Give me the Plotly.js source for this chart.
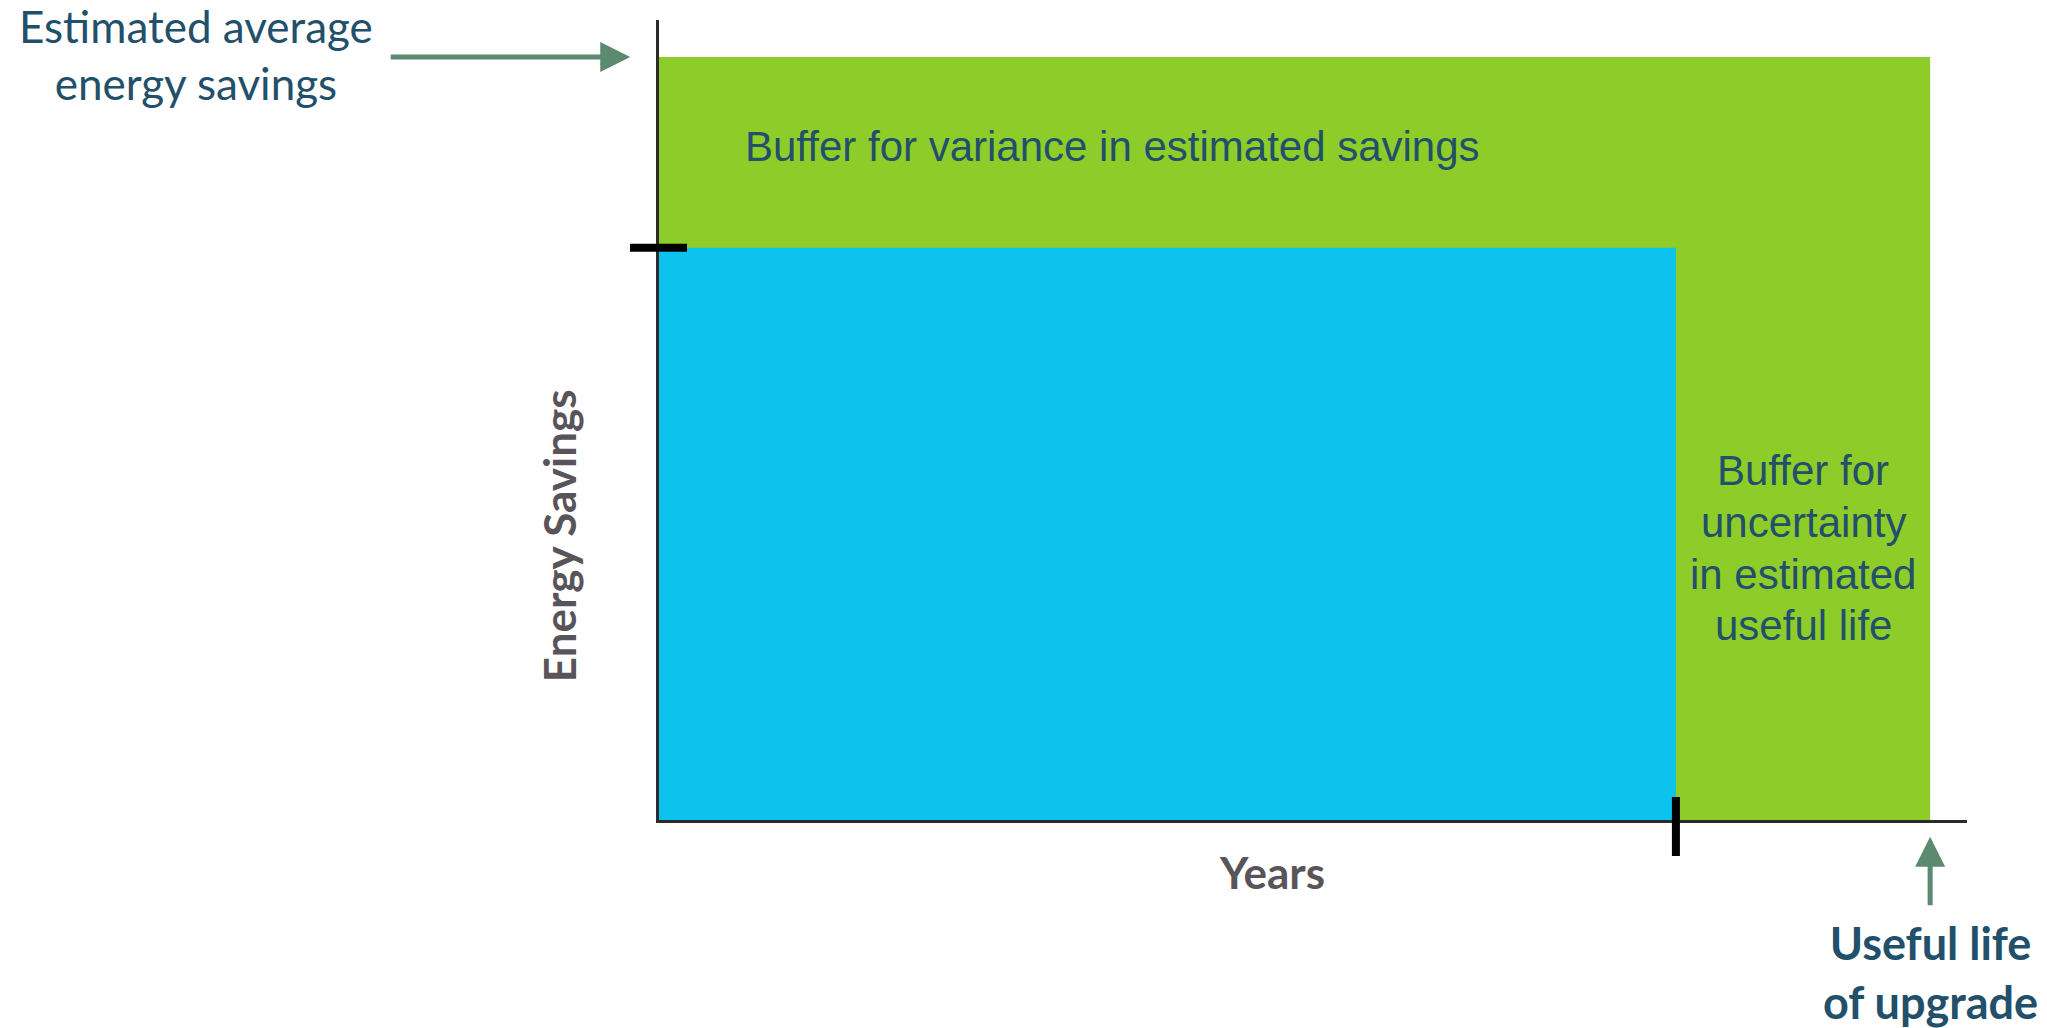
<!DOCTYPE html>
<html><head><meta charset="utf-8">
<script src="https://cdn.plot.ly/plotly-3.0.1.min.js"></script>
<style>html,body{margin:0;padding:0;background:#fff}#chart{width:2047px;height:1028px}</style>
</head><body><div id="chart"></div>
<script>
// ---- data ----
const regions = ['Buffer (estimated)', 'Claimed (conservative)'];
const lifeYears = [10, 8];          // [useful life of upgrade, conservative life]
const savingsLevels = [100, 75];    // [estimated average savings, conservative savings]
const uncertaintyLines = ['Buffer for', 'uncertainty', 'in estimated', 'useful life'];
const labels = {
  average: 'Estimated average<br>energy savings',
  variance: 'Buffer for variance in estimated savings',
  life: '<b>Useful life<br>of upgrade</b>',
  xTitle: '<b>Years</b>',
  yTitle: '<b>Energy Savings</b>'
};

// ---- styles / layout ----
const xMax = 10.29, yMax = 104.85;
const fills = ['#8ecc2a', '#0cc3ed'];
const teal = '#22506a';
const gray = '#595459';
const arrowCol = '#5b8a70';
const calibri = 'Lato, "Open Sans", sans-serif';
const arial = '"Liberation Sans", Arial, sans-serif';
const lineShifts = [77.5, 25.8, -25.8, -77.5];

const traces = regions.map((name, i) => ({
  type: 'scatter', mode: 'lines', name: name,
  x: [0, lifeYears[i], lifeYears[i], 0, 0],
  y: [0, 0, savingsLevels[i], savingsLevels[i], 0],
  fill: 'toself', fillcolor: fills[i],
  line: {width: 0, color: fills[i]},
  hoverinfo: 'skip', showlegend: false
}));

const annotations = [
  {text: labels.variance, xref: 'x', yref: 'y', x: 0.66, y: 88.3,
   xanchor: 'left', yanchor: 'middle', showarrow: false,
   font: {family: arial, size: 42, color: teal}},
  {text: labels.average, xref: 'paper', yref: 'paper', x: -0.354, y: 0.957,
   xanchor: 'center', yanchor: 'middle', showarrow: false, align: 'center',
   font: {family: calibri, size: 44, color: teal}},
  {text: labels.life, xref: 'x', yref: 'paper', x: lifeYears[0], y: -0.19,
   xanchor: 'center', yanchor: 'middle', showarrow: false, align: 'center',
   font: {family: calibri, size: 45, color: teal}},
  {text: labels.xTitle, xref: 'paper', yref: 'paper', x: 0.4687, y: -0.065,
   xanchor: 'center', yanchor: 'middle', showarrow: false,
   font: {family: calibri, size: 44, color: gray}},
  {text: labels.yTitle, xref: 'paper', yref: 'paper', x: -0.0765, y: 0.356,
   xanchor: 'center', yanchor: 'middle', showarrow: false, textangle: -90,
   font: {family: calibri, size: 44, color: gray}},
  // arrow to estimated average savings
  {text: '', xref: 'paper', yref: 'y', x: -0.022, y: savingsLevels[0],
   ax: -241, ay: 0, axref: 'pixel', ayref: 'pixel', showarrow: true,
   arrowhead: 2, arrowsize: 1.2, arrowwidth: 5, arrowcolor: arrowCol, standoff: 0},
  // arrow to useful life
  {text: '', xref: 'x', yref: 'paper', x: lifeYears[0], y: -0.021,
   ax: 0, ay: 70, axref: 'pixel', ayref: 'pixel', showarrow: true,
   arrowhead: 2, arrowsize: 1.2, arrowwidth: 5, arrowcolor: arrowCol, standoff: 0}
];
uncertaintyLines.forEach((t, i) => annotations.push({
  text: t, xref: 'x', yref: 'y', x: (lifeYears[0] + lifeYears[1]) / 2, y: 35.6,
  yshift: lineShifts[i], xanchor: 'center', yanchor: 'middle', showarrow: false,
  font: {family: arial, size: 42, color: teal}
}));

const layout = {
  width: 2047, height: 1028,
  margin: {l: 659, r: 80, t: 20, b: 208},
  paper_bgcolor: '#fff', plot_bgcolor: '#fff',
  showlegend: false,
  xaxis: {range: [0, xMax], showgrid: false, zeroline: false, showticklabels: false,
          ticks: '', showline: true, linecolor: '#2b2b2b', linewidth: 3, fixedrange: true},
  yaxis: {range: [0, yMax], showgrid: false, zeroline: false, showticklabels: false,
          ticks: '', showline: true, linecolor: '#2b2b2b', linewidth: 3, fixedrange: true},
  shapes: [
    {type: 'line', layer: 'above', xref: 'paper', xsizemode: 'pixel', xanchor: 0,
     x0: -29, x1: 28, yref: 'y', y0: savingsLevels[1], y1: savingsLevels[1],
     line: {color: '#000', width: 8}},
    {type: 'line', layer: 'above', yref: 'paper', ysizemode: 'pixel', yanchor: 0,
     y0: -36, y1: 23, xref: 'x', x0: lifeYears[1], x1: lifeYears[1],
     line: {color: '#000', width: 8}}
  ],
  annotations: annotations
};

Plotly.newPlot('chart', traces, layout, {displayModeBar: false, staticPlot: true});
</script>
</body></html>
